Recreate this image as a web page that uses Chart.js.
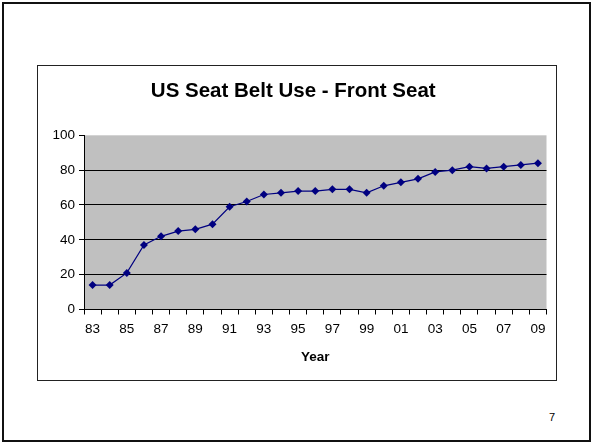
<!DOCTYPE html>
<html>
<head>
<meta charset="utf-8">
<script src="https://cdn.jsdelivr.net/npm/chart.js@4.4.1/dist/chart.umd.min.js"></script>
<style>
  html, body { margin: 0; padding: 0; background: #fff; }
  body { width: 592px; height: 444px; position: relative; overflow: hidden; font-family: "Liberation Sans", Arial, sans-serif; }
  #frame { position: absolute; left: 2px; top: 2px; width: 589px; height: 440px; box-sizing: border-box; border: 2px solid #111; }
  #box { position: absolute; left: 37px; top: 65px; width: 520px; height: 316px; box-sizing: border-box; border: 1.5px solid #222; }
  #page { position: absolute; left: 549px; top: 411px; font-size: 11px; color: #000; }
  #wrap { position: absolute; left: 0; top: 0; width: 592px; height: 444px; }
</style>
</head>
<body>
<div id="frame"></div>
<div id="box"></div>
<div id="page">7</div>
<div id="wrap"><canvas id="beltChart" width="592" height="444"></canvas></div>
<script>
// front seat belt use, percent, 1983-2009
const years = ['83','84','85','86','87','88','89','90','91','92','93','94','95','96',
               '97','98','99','00','01','02','03','04','05','06','07','08','09'];
const beltUse = [14, 14, 21, 37, 42, 45, 46, 49, 59, 62, 66, 67, 68, 68,
                 69, 69, 67, 71, 73, 75, 79, 80, 82, 81, 82, 83, 84];
const yTicks = [0, 20, 40, 60, 80, 100];

const grayArea = {
  id: 'grayArea',
  beforeDraw(chart) {
    const a = chart.chartArea;
    const c = chart.ctx;
    c.save();
    c.fillStyle = '#c0c0c0';
    c.fillRect(a.left, a.top, a.right - a.left, a.bottom - a.top);
    c.restore();
  }
};

const ctx = document.getElementById('beltChart').getContext('2d');
const chart = new Chart(ctx, {
  type: 'line',
  data: {
    labels: years,
    datasets: [{
      label: 'Front Seat',
      data: beltUse,
      borderColor: '#000080',
      borderWidth: 1.2,
      backgroundColor: '#000080',
      pointStyle: 'rectRot',
      pointRadius: 4,
      pointBorderWidth: 0,
      tension: 0,
      fill: false
    }]
  },
  options: {
    responsive: false,
    animation: false,
    layout: { padding: { left: 40, right: 45.5, top: 0, bottom: 0 } },
    plugins: {
      legend: { display: false },
      tooltip: { enabled: false },
      title: {
        display: true,
        text: 'US Seat Belt Use - Front Seat',
        color: '#000',
        font: { family: '"Liberation Sans", Arial', size: 20.5, weight: 'bold', lineHeight: 1.2 },
        padding: { top: 78.7, bottom: 32 }
      }
    },
    scales: {
      x: {
        offset: true,
        grid: { offset: true, drawOnChartArea: false, color: '#000', tickLength: 5, lineWidth: 1 },
        border: { color: '#000', width: 1 },
        ticks: {
          autoSkip: false,
          maxRotation: 0,
          padding: 7,
          color: '#000',
          font: { family: '"Liberation Sans", Arial', size: 13.5 },
          callback: function(v, i) { return i % 2 === 0 ? years[i] : ''; }
        },
        title: {
          display: true,
          text: 'Year',
          color: '#000',
          font: { family: '"Liberation Sans", Arial', size: 13.5, weight: 'bold' },
          padding: { top: 4, bottom: 0 }
        }
      },
      y: {
        min: 0,
        max: 100,
        afterBuildTicks: function(s) { s.ticks = yTicks.map(v => ({ value: v })); },
        afterFit: function(s) { s.width = 44; },
        grid: {
          color: c => (c.tick && c.tick.value === 100) ? 'rgba(0,0,0,0)' : '#000',
          tickColor: '#000',
          tickLength: 5,
          lineWidth: 1
        },
        border: { color: '#000', width: 1 },
        ticks: {
          padding: 4,
          color: '#000',
          font: { family: '"Liberation Sans", Arial', size: 13.5 }
        }
      }
    }
  },
  plugins: [grayArea]
});

// keep the plot bottom near the reference
const bottomGap = 444 - 309.5 - chart.scales.x.height;
chart.options.layout.padding.bottom = bottomGap;
chart.update();
</script>
</body>
</html>
